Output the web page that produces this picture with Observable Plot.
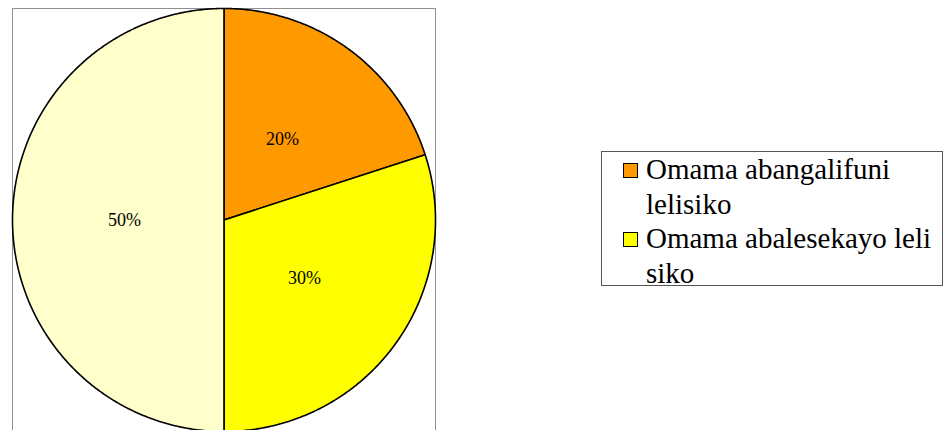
<!DOCTYPE html>
<html>
<head>
<meta charset="utf-8">
<script src="https://cdn.jsdelivr.net/npm/d3@7"></script>
<script src="https://cdn.jsdelivr.net/npm/@observablehq/plot@0.6"></script>
<style>
  body { margin: 0; background: #fff; }
  #wrap { position: relative; width: 945px; height: 430px; overflow: hidden; }
  #legend {
    position: absolute; left: 601px; top: 151px; width: 342px; height: 135px;
    box-sizing: border-box; border: 1px solid #555; background: #fff;
    font-family: "Liberation Serif", "Times New Roman", serif; font-size: 29px; line-height: 34.5px; color: #000;
  }
  .item { display: flex; align-items: flex-start; }
  .swatch { flex: none; width: 15px; height: 15px; box-sizing: border-box; border: 1.5px solid #000;
            margin-left: 21px; margin-top: 11px; margin-right: 8px; }
  .label { width: 292px; }
</style>
</head>
<body>
<div id="wrap">
  <div id="chart"></div>
  <div id="legend"></div>
</div>
<script>
// ---- data ----
const categories = ["Omama abangalifuni lelisiko", "Omama abalesekayo leli siko", ""];
const values = [20, 30, 50];
const valueLabels = ["20%", "30%", "50%"];
const colors = ["#FF9900", "#FFFF00", "#FFFFCC"];
const legendShown = [true, true, false];

// ---- geometry from data ----
const arcs = d3.pie().sort(null).value(d => d)(values);
const outline = [];
arcs.forEach((a, i) => {
  const n = Math.max(2, Math.ceil((a.endAngle - a.startAngle) / (Math.PI / 360)));
  outline.push({i, x: 0, y: 0});
  for (let k = 0; k <= n; k++) {
    const t = a.startAngle + (a.endAngle - a.startAngle) * k / n;
    outline.push({i, x: Math.sin(t), y: Math.cos(t)});
  }
  outline.push({i, x: 0, y: 0});
});
const labelR = 0.47;
const labelData = arcs.map((a, i) => {
  const m = (a.startAngle + a.endAngle) / 2;
  return {i, text: valueLabels[i], x: labelR * Math.sin(m), y: labelR * Math.cos(m)};
});

// ---- layout ----
const W = 945, H = 430, mL = 12, mR = 510, mT = 8, mB = -3;
const unit = (W - mL - mR) / 2;
const yMin = 1 - (H - mB - mT) / unit;

const chart = Plot.plot({
  width: W, height: H,
  marginLeft: mL, marginRight: mR, marginTop: mT, marginBottom: mB,
  x: {domain: [-1, 1], axis: null},
  y: {domain: [yMin, 1], axis: null},
  color: {type: "ordinal", domain: d3.range(categories.length), range: colors},
  style: {background: "#fff", overflow: "visible"},
  marks: [
    Plot.frame({stroke: "#909090", strokeWidth: 1}),
    Plot.line(outline, {x: "x", y: "y", z: "i", fill: "i", stroke: "#000", strokeWidth: 1.6, strokeLinejoin: "round", curve: "linear"}),
    Plot.text(labelData, {x: "x", y: "y", text: "text", fill: "#000", fontSize: 18, fontFamily: "Liberation Serif"})
  ]
});
document.getElementById("chart").appendChild(chart);

// ---- legend ----
const legend = document.getElementById("legend");
categories.forEach((c, i) => {
  if (!legendShown[i]) return;
  const item = document.createElement("div");
  item.className = "item";
  const sw = document.createElement("span");
  sw.className = "swatch";
  sw.style.background = colors[i];
  const lab = document.createElement("div");
  lab.className = "label";
  lab.textContent = c;
  item.appendChild(sw);
  item.appendChild(lab);
  legend.appendChild(item);
});
</script>
</body>
</html>
